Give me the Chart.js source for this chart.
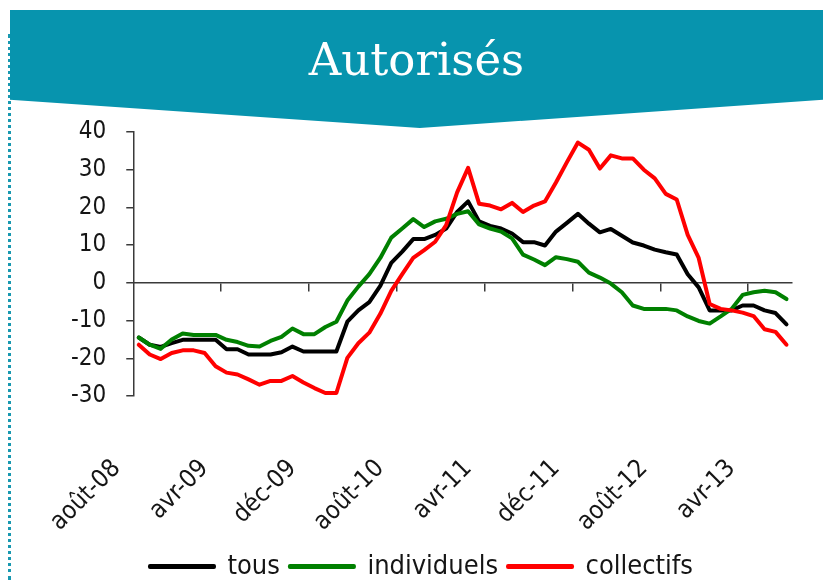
<!DOCTYPE html>
<html lang="fr">
<head>
<meta charset="utf-8">
<script src="https://cdn.jsdelivr.net/npm/chart.js@4/dist/chart.umd.min.js"></script>
<style>
  html, body { margin: 0; padding: 0; background: #fff; }
  body { width: 823px; height: 580px; position: relative; overflow: hidden; }
  #wrap { position: absolute; left: 0; top: 0; width: 823px; height: 580px; }
  #banner {
    position: absolute; left: 10px; top: 10px; width: 813px; height: 118px;
    background: #0794ae;
    clip-path: polygon(0 0, 100% 0, 100% 76%, 50.4% 100%, 0 76%);
    z-index: 2;
  }
  #title {
    position: absolute; left: 10px; top: 10px; width: 813px; height: 100px;
    display: flex; align-items: center; justify-content: center;
    color: #fff; font-family: "DejaVu Serif", serif; font-size: 45px; font-weight: normal;
    z-index: 3; padding-bottom: 2px; box-sizing: border-box;
  }
  #dots {
    position: absolute; left: 8px; top: 34px; bottom: 0; width: 0;
    border-left: 3px dotted #1898b0; z-index: 1;
  }
</style>
</head>
<body>
<div id="dots"></div>
<div id="banner"></div>
<div id="title">Autorisés</div>
<div id="wrap"><canvas id="c" width="823" height="580"></canvas></div>
<script>
// Months from août-08 to juil-13 (monthly)
const monthNames = ["janv","févr","mars","avr","mai","juin","juil","août","sept","oct","nov","déc"];
const categories = [];
for (let k = 0; k < 60; k++) {
  const m = (7 + k) % 12;
  const y = 8 + Math.floor((7 + k) / 12);
  categories.push(monthNames[m] + "-" + String(y).padStart(2, "0"));
}
const labelEvery = 8;

const tous = [-14.5,-16.4,-17,-16,-15.1,-15.1,-15.1,-15.1,-17.6,-17.6,
  -19,-19,-19,-18.4,-16.9,-18.2,-18.2,-18.2,-18.2,-10.3,
  -7.3,-5.1,-0.8,5.3,8.3,11.6,11.6,12.7,14.4,18.8,
  21.6,16.3,15.1,14.4,13.1,10.8,10.8,9.9,13.6,15.9,
  18.3,15.7,13.4,14.3,12.5,10.7,9.9,8.8,8.1,7.5,
  2.3,-1.2,-7.3,-7.3,-7.3,-6,-6,-7.3,-8,-11];

const individuels = [-14.5,-16.4,-17.5,-15,-13.4,-13.8,-13.8,-13.8,-15.1,-15.7,
  -16.7,-16.9,-15.4,-14.3,-12.1,-13.6,-13.6,-11.7,-10.3,-4.7,
  -1,2.3,6.6,12,14.4,16.9,14.8,16.3,17,18.3,
  19,15.5,14.4,13.6,11.8,7.5,6.2,4.7,6.8,6.3,
  5.6,2.7,1.4,-0.2,-2.5,-6,-6.9,-6.9,-6.9,-7.3,
  -8.9,-10.1,-10.8,-8.9,-6.9,-3.2,-2.5,-2.1,-2.5,-4.3];

const collectifs = [-16.4,-19,-20.2,-18.6,-17.9,-17.9,-18.6,-22.1,-23.8,-24.3,
  -25.6,-27,-26,-26,-24.7,-26.4,-27.9,-29.2,-29.2,-19.9,
  -16,-13.2,-8.2,-2.1,2.3,6.6,8.7,10.9,15.3,24,
  30.5,21,20.5,19.5,21.2,18.8,20.5,21.6,26.6,32,
  37.2,35.3,30.3,33.8,33,33,30,27.7,23.6,22.1,
  12.7,6.6,-5.6,-6.9,-7.3,-7.9,-8.8,-12.3,-13,-16.4];

const yTicks = { min: -30, max: 40, step: 10 };

const narrow = "'Liberation Sans Narrow', 'DejaVu Sans Condensed', 'Arial Narrow', sans-serif";
const axisColor = '#3a3a3a';
const textColor = '#151515';

new Chart(document.getElementById('c'), {
  type: 'line',
  data: {
    labels: categories,
    datasets: [
      { label: 'tous', data: tous, borderColor: '#000000', backgroundColor: '#000000', order: 3 },
      { label: 'individuels', data: individuels, borderColor: '#008000', backgroundColor: '#008000', order: 2 },
      { label: 'collectifs', data: collectifs, borderColor: '#ff0000', backgroundColor: '#ff0000', order: 1 }
    ]
  },
  options: {
    responsive: false,
    animation: false,
    devicePixelRatio: 1,
    layout: { padding: { left: 51, right: 31, top: 132, bottom: -10 } },
    elements: {
      line: { borderWidth: 4, tension: 0, borderJoinStyle: 'round', borderCapStyle: 'round' },
      point: { radius: 0, hoverRadius: 0 }
    },
    plugins: {
      tooltip: { enabled: false },
      legend: {
        position: 'bottom',
        labels: {
          boxWidth: 64, boxHeight: 1, padding: 10,
          color: textColor,
          font: { family: narrow, size: 27 },
          sort: (a, b) => a.datasetIndex - b.datasetIndex
        }
      }
    },
    scales: {
      x: {
        type: 'category',
        offset: true,
        grid: { display: false, drawTicks: false },
        border: { display: false },
        afterFit: (s) => { s.paddingLeft = 0; s.paddingRight = 0; s.height = 147; },
        ticks: {
          autoSkip: false, minRotation: 45, maxRotation: 45,
          padding: 58, labelOffset: -22,
          color: textColor,
          font: { family: narrow, size: 25 },
          callback: function (v, i) { return i % labelEvery === 0 ? this.getLabelForValue(v) : ''; }
        }
      },
      x0: {
        type: 'category',
        position: { y: 0 },
        offset: true,
        afterFit: (s) => { s.paddingLeft = 0; s.paddingRight = 0; s.height = 0; },
        grid: {
          offset: true, drawOnChartArea: false, drawTicks: true, tickLength: 8, lineWidth: 1.5,
          color: 'transparent',
          tickColor: (ctx) => (ctx.index % labelEvery === 0 && ctx.index > 0 && ctx.index < categories.length) ? axisColor : 'transparent'
        },
        border: { display: true, color: axisColor, width: 1.5 },
        ticks: { display: false }
      },
      y: {
        min: yTicks.min, max: yTicks.max,
        grid: { drawOnChartArea: false, drawTicks: true, tickLength: 7, tickColor: axisColor, lineWidth: 1.5 },
        border: { display: true, color: axisColor, width: 1.5 },
        ticks: {
          stepSize: yTicks.step, padding: 20, autoSkip: false,
          color: textColor,
          font: { family: narrow, size: 24 }
        }
      }
    }
  }
});
</script>
</body>
</html>
